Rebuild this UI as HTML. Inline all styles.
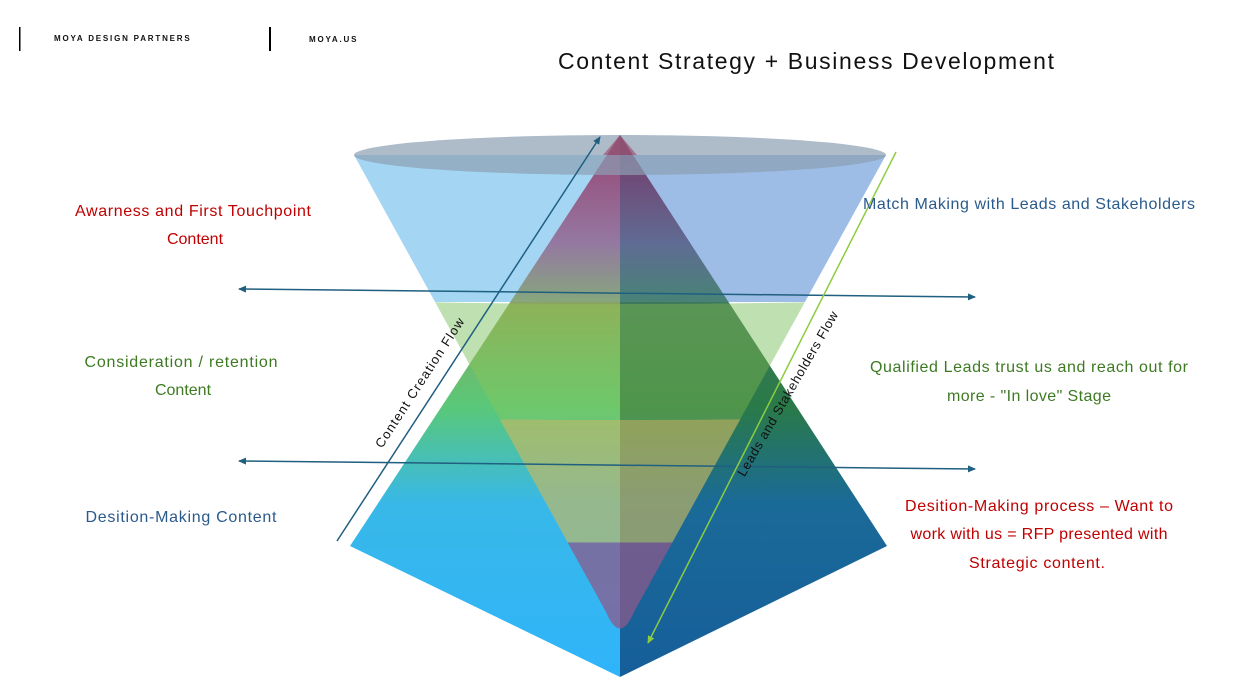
<!DOCTYPE html>
<html><head><meta charset="utf-8"><style>
html,body{margin:0;padding:0;background:#fff;width:1242px;height:692px;overflow:hidden}
svg{display:block}
text{font-family:"Liberation Sans",sans-serif}
</style></head><body>
<svg width="1242" height="692" viewBox="0 0 1242 692" xmlns="http://www.w3.org/2000/svg">
<defs>
<linearGradient id="lf" x1="0" y1="135" x2="0" y2="677" gradientUnits="userSpaceOnUse">
<stop offset="0" stop-color="#a02858"/><stop offset="0.2" stop-color="#9a6a90"/><stop offset="0.32" stop-color="#88a860"/><stop offset="0.5" stop-color="#5ac878"/><stop offset="0.68" stop-color="#38b8e8"/><stop offset="1" stop-color="#30b4fa"/>
</linearGradient>
<linearGradient id="rf" x1="0" y1="135" x2="0" y2="677" gradientUnits="userSpaceOnUse">
<stop offset="0" stop-color="#7a1848"/><stop offset="0.2" stop-color="#5a5a80"/><stop offset="0.32" stop-color="#3a7a58"/><stop offset="0.5" stop-color="#2a7a48"/><stop offset="0.68" stop-color="#1a6a98"/><stop offset="1" stop-color="#165e9a"/>
</linearGradient>
<clipPath id="cone"><path d="M354,155 L606,612 Q620,645 634,612 L886,155 Z"/></clipPath>
<clipPath id="pyr"><path d="M620,135 L350,546 L620,677 L887,546 Z"/></clipPath>
<marker id="ah" markerWidth="8" markerHeight="8" refX="7" refY="4" orient="auto" markerUnits="userSpaceOnUse"><path d="M0,0.5 L8,4 L0,7.5 Z" fill="#1f5f80"/></marker>
<marker id="ahs" markerWidth="8" markerHeight="8" refX="1" refY="4" orient="auto" markerUnits="userSpaceOnUse"><path d="M8,0.5 L0,4 L8,7.5 Z" fill="#1f5f80"/></marker>
<marker id="ag" markerWidth="8" markerHeight="8" refX="7" refY="4" orient="auto" markerUnits="userSpaceOnUse"><path d="M0,0.5 L8,4 L0,7.5 Z" fill="#8ccc40"/></marker>
</defs>

<!-- header -->
<rect x="19" y="27" width="1.5" height="24" fill="#000"/>
<text x="54" y="41" font-size="8" font-weight="bold" letter-spacing="1.8" fill="#111">MOYA DESIGN PARTNERS</text>
<rect x="269" y="27" width="2" height="24" fill="#000"/>
<text x="309" y="42" font-size="8" font-weight="bold" letter-spacing="1.8" fill="#111">MOYA.US</text>
<text x="806" y="69" font-size="23" text-anchor="middle" fill="#111" textLength="496">Content Strategy + Business Development</text>

<!-- cone on white -->
<g clip-path="url(#cone)">
<rect x="340" y="130" width="280" height="172" fill="#a4d6f4"/>
<rect x="620" y="130" width="280" height="172" fill="#9ebde6"/>
<path d="M340,300 Q620,308 900,300 L900,416 Q620,424 340,416 Z" fill="#bfe0b0"/>
<path d="M340,416 Q620,424 900,416 L900,540 Q620,545 340,540 Z" fill="#c8c48a"/>
<path d="M340,540 Q620,545 900,540 L900,660 L340,660 Z" fill="#9a7aa8"/>
</g>

<!-- pyramid -->
<path d="M620,135 L350,546 L620,677 Z" fill="url(#lf)"/>
<path d="M620,135 L887,546 L620,677 Z" fill="url(#rf)"/>

<!-- cone overlay on pyramid -->
<g clip-path="url(#pyr)"><g clip-path="url(#cone)">
<rect x="340" y="130" width="560" height="172" fill="rgba(120,190,240,0.18)"/>
<path d="M340,300 Q620,308 900,300 L900,416 Q620,424 340,416 Z" fill="rgba(150,200,80,0.35)"/>
<path d="M340,416 Q620,424 900,416 L900,540 Q620,545 340,540 Z" fill="rgba(200,185,95,0.65)"/>
<path d="M340,540 Q620,545 900,540 L900,660 L340,660 Z" fill="rgba(140,90,140,0.75)"/>
</g></g>
<ellipse cx="620" cy="155" rx="266" ry="20" fill="rgba(140,160,180,0.7)"/>
<path d="M620,135 L603,155 L637,155 Z" fill="rgba(150,30,70,0.45)"/>

<!-- arrows -->
<line x1="239" y1="289" x2="975" y2="297" stroke="#1f5f80" stroke-width="1.5" marker-start="url(#ahs)" marker-end="url(#ah)"/>
<line x1="239" y1="461" x2="975" y2="469" stroke="#1f5f80" stroke-width="1.5" marker-start="url(#ahs)" marker-end="url(#ah)"/>
<line x1="337" y1="541" x2="600" y2="137" stroke="#1f5f80" stroke-width="1.5" marker-end="url(#ah)"/>
<line x1="896" y1="152" x2="648" y2="643" stroke="#8ccc40" stroke-width="1.5" marker-end="url(#ag)"/>

<text transform="translate(420,383) rotate(-57)" font-size="13" text-anchor="middle" fill="#111" dy="4" textLength="152">Content Creation Flow</text>
<text transform="translate(788,394) rotate(-60)" font-size="13" text-anchor="middle" fill="#111" dy="4" textLength="188">Leads and Stakeholders Flow</text>

<!-- labels -->
<g font-size="16" text-anchor="middle">
<text x="193" y="216" fill="#c00000" textLength="236">Awarness and First Touchpoint</text>
<text x="195" y="244" fill="#c00000">Content</text>
<text x="181" y="367" fill="#3d7a22" textLength="193">Consideration / retention</text>
<text x="183" y="395" fill="#3d7a22">Content</text>
<text x="181" y="522" fill="#2a5a8c" textLength="191">Desition-Making Content</text>
<text x="1029" y="209" fill="#2a5a8c" textLength="332">Match Making with Leads and Stakeholders</text>
<text x="1029" y="372" fill="#3d7a22" textLength="318">Qualified Leads trust us and reach out for</text>
<text x="1029" y="401" fill="#3d7a22" textLength="164">more - "In love" Stage</text>
<text x="1039" y="511" fill="#c00000" textLength="268">Desition-Making process – Want to</text>
<text x="1039" y="539" fill="#c00000" textLength="257">work with us = RFP presented with</text>
<text x="1037" y="568" fill="#c00000" textLength="136">Strategic content.</text>
</g>
</svg>
</body></html>
